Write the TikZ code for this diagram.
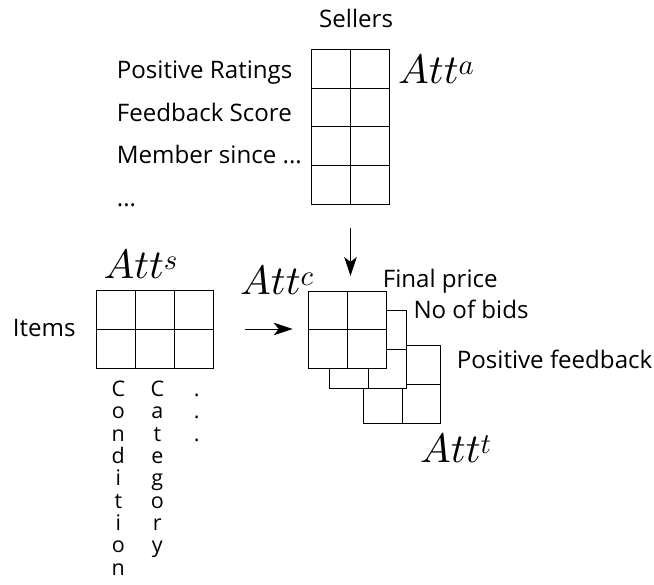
\documentclass[tikz,border=0pt]{standalone}
\usepackage{fontspec}
\newfontfamily\labelfont{Open Sans}
\usetikzlibrary{arrows.meta}
% scalable math italic so that large formulas keep their size
\DeclareFontShape{OML}{cmm}{m}{it}{<-> cmmi10}{}

\begin{document}
\begin{tikzpicture}[x=1pt,y=-1pt,
  cell/.style={draw, fill=white, line width=0.9pt, minimum width=38.8pt,
    minimum height=38.8pt, inner sep=0pt, outer sep=0pt},
  icell/.style={cell, minimum width=39pt, minimum height=39pt},
  lbl/.style={font=\labelfont\fontsize{24.1}{28}\selectfont, inner sep=0pt, anchor=base west},
  vlbl/.style={font=\labelfont\fontsize{21.5}{25}\selectfont, inner sep=0pt, anchor=base},
  att/.style={font=\fontsize{41}{45}\selectfont, inner sep=0pt, anchor=base west},
  arr/.style={-{Stealth[length=19pt,width=12.5pt,inset=5pt]}, line width=0.8pt}]
\useasboundingbox (0,0) rectangle (654,585);

% sellers table: 4 rows x 2 columns
\foreach \r in {0,...,3}
  \foreach \c in {0,1}
    \node[cell] (s\r\c) at ({331.1+38.8*\c},{68.7+38.8*\r}) {};
\node[lbl] (sellers) at (319,28) {Sellers};
\node[lbl] (posrat) at (116.7,79) {Positive Ratings};
\node[lbl] (fbscore) at (116.7,121.7) {Feedback Score};
\node[lbl] (member) at (116.7,163.3) {Member since ...};
\node[lbl] (sdots) at (116.7,206.7) {...};
\node[att] (atta) at (398,83.3) {$Att^a$};

% items table: 2 rows x 3 columns
\foreach \r in {0,1}
  \foreach \c in {0,1,2}
    \node[icell] (i\r\c) at ({116.2+39*\c},{309.5+39*\r}) {};
\node[lbl] (items) at (12.7,336.7) {Items};
\node[att] (atts) at (103.3,278.3) {$Att^s$};

% vertical attribute names under the items table
\foreach \ch [count=\k] in {C,o,n,d,i,t,i,o,n}
  \node[vlbl] (cond\k) at (118.3,{396.7+22.3*(\k-1)}) {\ch};
\foreach \ch [count=\k] in {C,a,t,e,g,o,r,y}
  \node[vlbl] (cat\k) at (157.3,{396.7+22.3*(\k-1)}) {\ch};
\foreach \k in {1,2,3}
  \node[vlbl] (idot\k) at (196.7,{396.7+22.3*(\k-1)}) {.};

% stacked combined tables, back to front
\foreach \r in {0,1}
  \foreach \c in {0,1}
    \node[cell] (t\r\c) at ({382.7+38.8*\c},{365.1+38.8*\r}) {};
\foreach \r in {0,1}
  \foreach \c in {0,1}
    \node[cell] (b\r\c) at ({348.7+38.8*\c},{330.1+38.8*\r}) {};
\foreach \r in {0,1}
  \foreach \c in {0,1}
    \node[cell] (f\r\c) at ({328.1+38.8*\c},{310.4+38.8*\r}) {};

\node[att] (attc) at (240,295) {$Att^c$};
\node[att] (attt) at (420,463) {$Att^t$};
\node[lbl] (final) at (382.7,287.7) {Final price};
\node[lbl] (bids) at (413.3,318.3) {No of bids};
\node[lbl] (posfb) at (456.7,368.3) {Positive feedback};

% arrows into the combined table
\draw[arr, shorten <=24pt, shorten >=15pt] (s30.south east) -- (s30.south east |- f00.north east);
\draw[arr, shorten <=31pt, shorten >=16pt] (i02.south east) -- (i02.south east -| f00.south west);
\end{tikzpicture}
\end{document}
